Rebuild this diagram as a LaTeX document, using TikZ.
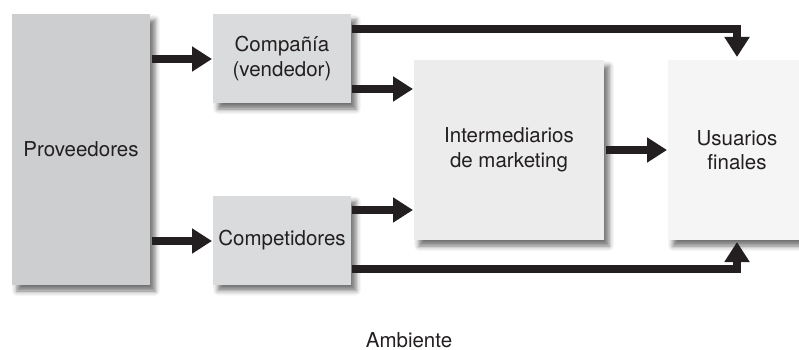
\documentclass[tikz,border=0pt]{standalone}
\usepackage{fontspec}
\setmainfont{TeX Gyre Heros}
\usetikzlibrary{arrows.meta,shadows.blur}
\definecolor{ink}{HTML}{231F20}
\definecolor{provfill}{HTML}{CDCED0}
\definecolor{compfill}{HTML}{DADBDC}
\definecolor{interfill}{HTML}{ECECEC}
\definecolor{usufill}{HTML}{F5F5F5}
\begin{document}
\begin{tikzpicture}[x=1pt,y=-1pt,
  box/.style={rectangle, inner sep=0pt, outer sep=0pt, align=center, text=ink,
    font=\fontsize{20.5}{24.5}\selectfont,
    blur shadow={shadow xshift=5pt, shadow yshift=-6pt, shadow blur radius=5pt, shadow opacity=55}},
  arr/.style={draw=ink, line width=8pt, -{Triangle[width=24pt,length=20pt]}},
  lbl/.style={text=ink, font=\fontsize{20.5}{24.5}\selectfont, inner sep=0pt}]
\useasboundingbox (0,0) rectangle (799,350);
\node[box, fill=provfill, minimum width=138pt, minimum height=271pt] (prov) at (81,149.5) {Proveedores};
\node[box, fill=compfill, minimum width=138pt, minimum height=89pt] (comp) at (282,58.5) {Compañía\\(vendedor)};
\node[box, fill=compfill, minimum width=138pt, minimum height=89pt] (compet) at (282,240) {Competidores};
\node[box, fill=interfill, minimum width=190pt, minimum height=180pt] (inter) at (509,150) {Intermediarios\\de marketing};
\node[box, fill=usufill, minimum width=138pt, minimum height=180pt] (usu) at (737,150) {Usuarios\\finales};
\node[lbl, anchor=base] (amb) at (409,347) {Ambiente};
\draw[arr, shorten <=2pt, shorten >=1pt] (prov.east |- 0,59) -- (comp.west |- 0,59);
\draw[arr, shorten <=2pt, shorten >=1pt] (prov.east |- 0,241) -- (compet.west |- 0,241);
\draw[arr, shorten <=1pt, shorten >=1pt] (comp.east |- 0,89) -- (inter.west |- 0,89);
\draw[arr, shorten <=1pt, shorten >=1pt] (compet.east |- 0,210) -- (inter.west |- 0,210);
\draw[arr, shorten <=2pt, shorten >=1pt] (inter.east |- 0,150) -- (usu.west |- 0,150);
\draw[arr, shorten <=1pt, shorten >=3pt] (comp.east |- 0,29.5) -| (usu.north);
\draw[arr, shorten <=1pt, shorten >=2pt] (compet.east |- 0,269) -| (usu.south);
\end{tikzpicture}
\end{document}
